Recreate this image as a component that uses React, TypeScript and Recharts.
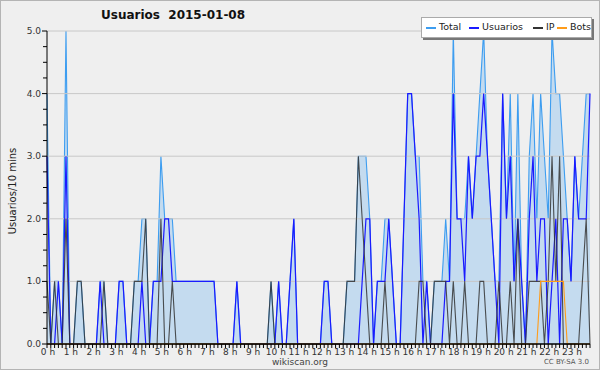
import { ComposedChart, Area, Line, XAxis, YAxis, ReferenceLine } from 'recharts';

const hourLabels = [
  '0 h', '1 h', '2 h', '3 h', '4 h', '5 h', '6 h', '7 h', '8 h', '9 h', '10 h', '11 h',
  '12 h', '13 h', '14 h', '15 h', '16 h', '17 h', '18 h', '19 h', '20 h', '21 h', '22 h', '23 h',
];

// 144 ten-minute slots
const total = [
  4, 0, 1, 1, 0, 5, 0, 0, 1, 1, 0, 0, 0, 0, 1, 1, 0, 0, 0, 1, 1, 0, 0, 1,
  1, 2, 2, 0, 1, 1, 3, 2, 2, 2, 1, 1, 1, 1, 1, 1, 1, 1, 1, 1, 1, 0, 0, 0,
  0, 0, 1, 0, 0, 0, 0, 0, 0, 0, 0, 1, 0, 1, 0, 0, 1, 2, 0, 0, 0, 0, 0, 0,
  0, 1, 1, 0, 0, 0, 0, 1, 1, 1, 3, 3, 3, 2, 0, 1, 1, 2, 2, 1, 0, 0, 2, 4,
  4, 3, 3, 1, 1, 0, 1, 1, 1, 2, 1, 5, 2, 2, 2, 3, 2, 3, 4, 5, 3, 2, 1, 1,
  4, 2, 4, 1, 4, 1, 0, 3, 4, 2, 4, 3, 2, 5, 4, 4, 3, 2, 1, 3, 2, 3, 4, 4,
];
const usuarios = [
  3, 0, 0, 1, 0, 3, 0, 0, 0, 0, 0, 0, 0, 0, 1, 0, 0, 0, 0, 1, 1, 0, 0, 0,
  0, 1, 0, 0, 1, 1, 1, 2, 2, 1, 1, 1, 1, 1, 1, 1, 1, 1, 1, 1, 1, 0, 0, 0,
  0, 0, 1, 0, 0, 0, 0, 0, 0, 0, 0, 0, 0, 1, 0, 0, 1, 2, 0, 0, 0, 0, 0, 0,
  0, 1, 1, 0, 0, 0, 0, 0, 0, 0, 0, 1, 2, 2, 0, 1, 1, 1, 2, 1, 0, 0, 2, 4,
  4, 3, 2, 0, 1, 0, 0, 0, 0, 1, 1, 4, 2, 2, 1, 3, 2, 3, 3, 4, 3, 2, 1, 0,
  4, 2, 3, 1, 2, 1, 0, 2, 3, 1, 2, 2, 0, 1, 2, 0, 2, 2, 1, 3, 2, 2, 2, 4,
];
const ip = [
  1, 0, 1, 0, 0, 2, 0, 0, 1, 1, 0, 0, 0, 0, 0, 1, 0, 0, 0, 0, 0, 0, 0, 1,
  1, 1, 2, 0, 0, 0, 2, 0, 0, 1, 0, 0, 0, 0, 0, 0, 0, 0, 0, 0, 0, 0, 0, 0,
  0, 0, 0, 0, 0, 0, 0, 0, 0, 0, 0, 1, 0, 0, 0, 0, 0, 0, 0, 0, 0, 0, 0, 0,
  0, 0, 0, 0, 0, 0, 0, 1, 1, 1, 3, 2, 1, 0, 0, 0, 0, 1, 0, 0, 0, 0, 0, 0,
  0, 0, 1, 1, 0, 0, 1, 1, 1, 1, 0, 1, 0, 0, 1, 0, 0, 0, 1, 1, 0, 0, 0, 1,
  0, 0, 1, 0, 2, 0, 0, 1, 1, 1, 1, 0, 1, 3, 1, 3, 0, 0, 0, 0, 0, 1, 2, 0,
];
const bots = [
  0, 0, 0, 0, 0, 0, 0, 0, 0, 0, 0, 0, 0, 0, 0, 0, 0, 0, 0, 0, 0, 0, 0, 0,
  0, 0, 0, 0, 0, 0, 0, 0, 0, 0, 0, 0, 0, 0, 0, 0, 0, 0, 0, 0, 0, 0, 0, 0,
  0, 0, 0, 0, 0, 0, 0, 0, 0, 0, 0, 0, 0, 0, 0, 0, 0, 0, 0, 0, 0, 0, 0, 0,
  0, 0, 0, 0, 0, 0, 0, 0, 0, 0, 0, 0, 0, 0, 0, 0, 0, 0, 0, 0, 0, 0, 0, 0,
  0, 0, 0, 0, 0, 0, 0, 0, 0, 0, 0, 0, 0, 0, 0, 0, 0, 0, 0, 0, 0, 0, 0, 0,
  0, 0, 0, 0, 0, 0, 0, 0, 0, 0, 1, 1, 1, 1, 1, 1, 1, 0, 0, 0, 0, 0, 0, 0,
];

const yTicks = [0, 0.25, 0.5, 0.75, 1, 1.25, 1.5, 1.75, 2, 2.25, 2.5, 2.75, 3, 3.25, 3.5, 3.75, 4, 4.25, 4.5, 4.75, 5];
const gridValues = [1, 2, 3, 4, 5];

const data = total.map((t, i) => ({ i, total: t, usuarios: usuarios[i], ip: ip[i], bots: bots[i] }));
const xTicks = data.map(d => d.i);

const FONT = '"DejaVu Sans", Verdana, sans-serif';

function XTick({ x, y, payload }: any) {
  const v = payload.value;
  return (
    <g>
      <line x1={x} y1={y} x2={x} y2={y + 4} stroke="#000" strokeWidth={1} />
      {v % 6 === 0 && (
        <text x={x + 1} y={y + 10.5} textAnchor="middle" fontSize={9} fontFamily={FONT} fill="#333">
          {hourLabels[v / 6]}
        </text>
      )}
    </g>
  );
}

function YTick({ x, y, payload }: any) {
  const v = payload.value;
  const major = Number.isInteger(v);
  return (
    <g>
      <line x1={x - (major ? 5 : 4)} y1={y} x2={x} y2={y} stroke="#000" strokeWidth={1} />
      {major && (
        <text x={x - 6} y={y + 3} textAnchor="end" fontSize={9} fontFamily={FONT} fill="#333">
          {v.toFixed(1)}
        </text>
      )}
    </g>
  );
}

const legendItems = [
  { name: 'Total', color: '#3d9df0', line: 4, text: 17 },
  { name: 'Usuarios', color: '#1a1aff', line: 47, text: 60 },
  { name: 'IP', color: '#333', line: 111, text: 124 },
  { name: 'Bots', color: '#ff9c1a', line: 135, text: 148 },
];

export default function App() {
  return (
    <div
      style={{
        position: 'absolute', left: 0, top: 0, width: 600, height: 370,
        background: '#efefef', boxShadow: 'inset 0 0 0 1px #b4b4b4', fontFamily: FONT,
      }}
    >
      <div style={{ position: 'absolute', left: 101, top: 8, fontSize: 12, fontWeight: 'bold', color: '#111', whiteSpace: 'pre' }}>
        {'Usuarios  2015-01-08'}
      </div>
      <div
        style={{
          position: 'absolute', left: 12, top: 191, fontSize: 10, color: '#222', whiteSpace: 'nowrap',
          transform: 'translate(-50%, -50%) rotate(-90deg)',
        }}
      >
        Usuarios/10 mins
      </div>
      <ComposedChart width={600} height={370} data={data} margin={{ top: 31, right: 10, bottom: 6, left: 0 }}>
        {gridValues.map(g => (
          <ReferenceLine key={g} y={g} stroke="#c8c8c8" strokeWidth={1} />
        ))}
        <XAxis
          type="number"
          dataKey="i"
          domain={[0, 143]}
          ticks={xTicks}
          interval={0}
          tickLine={false}
          tickSize={0}
          tickMargin={0}
          height={20}
          axisLine={{ stroke: '#000', strokeWidth: 1 }}
          tick={<XTick />}
        />
        <YAxis
          type="number"
          domain={[0, 5]}
          ticks={yTicks}
          interval={0}
          width={47}
          tickLine={false}
          tickSize={0}
          tickMargin={0}
          axisLine={{ stroke: '#000', strokeWidth: 1 }}
          tick={<YTick />}
        />
        <Area type="linear" dataKey="total" stroke="#3d9df0" strokeWidth={1.1} fill="#c4dbef" fillOpacity={1} isAnimationActive={false} dot={false} activeDot={false} />
        <Line type="linear" dataKey="usuarios" stroke="#1a1aff" strokeWidth={1.2} isAnimationActive={false} dot={false} activeDot={false} />
        <Line type="linear" dataKey="ip" stroke="#333" strokeOpacity={0.85} strokeWidth={1.1} isAnimationActive={false} dot={false} activeDot={false} />
        <Line type="linear" dataKey="bots" stroke="#ff9c1a" strokeWidth={1.1} isAnimationActive={false} dot={false} activeDot={false} />
        <ReferenceLine y={0} stroke="#000" strokeWidth={1} />
      </ComposedChart>
      <div
        style={{
          position: 'absolute', left: 421, top: 17, width: 171, height: 21, background: '#fff',
          border: '1px solid #aaa', boxShadow: '2px 2px 0 #777', boxSizing: 'border-box',
          fontSize: 9.5, color: '#222',
        }}
      >
        {legendItems.map(it => (
          <span key={it.name}>
            <span style={{ position: 'absolute', left: it.line, top: 9, width: 10, height: 1.5, background: it.color }} />
            <span style={{ position: 'absolute', left: it.text, top: 3, whiteSpace: 'nowrap' }}>{it.name}</span>
          </span>
        ))}
      </div>
      <div style={{ position: 'absolute', left: 0, width: 600, top: 357, textAlign: 'center', fontSize: 9, color: '#444' }}>
        wikiscan.org
      </div>
      <div style={{ position: 'absolute', right: 11, top: 358, fontSize: 7, color: '#555' }}>CC BY-SA 3.0</div>
    </div>
  );
}
